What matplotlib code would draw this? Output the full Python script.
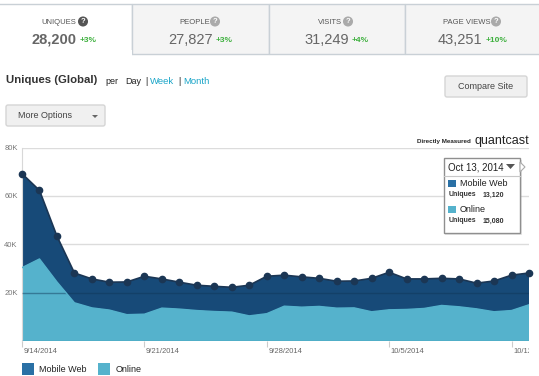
import numpy as np
import matplotlib
matplotlib.use('Agg')
import matplotlib.pyplot as plt
from matplotlib.patches import Rectangle, FancyBboxPatch, Polygon
from matplotlib.transforms import Bbox, ScaledTranslation

plt.rcParams['font.family'] = ['Liberation Sans', 'DejaVu Sans']

# thousands of uniques per day, 9/14/2014 to 10/13/2014
mobile_web = [38.8, 28.3, 18.9, 12.3, 11.95, 11.5, 13.5, 15.65, 12.05, 11.1,
              10.45, 10.4, 10.25, 12.65, 15.45, 12.8, 12.5, 11.6, 11.1, 11.1,
              13.8, 15.5, 12.6, 12.2, 11.2, 11.5, 10.6, 12.7, 14.6, 13.12]
online = [30.4, 34.0, 24.5, 15.9, 13.8, 12.9, 11.0, 11.2, 13.7, 13.3,
          12.7, 12.3, 12.05, 10.5, 11.4, 14.5, 14.1, 14.4, 13.7, 13.8,
          12.2, 13.0, 13.15, 13.56, 14.8, 14.25, 13.4, 12.2, 12.7, 15.08]

y_ticks = [20, 40, 60, 80]
y_labels = ['20K', '40K', '60K', '80K']
x_ticks = [0, 7, 14, 21, 28]
x_labels = ['9/14/2014', '9/21/2014', '9/28/2014', '10/5/2014', '10/12/2014']

tab_names = ['UNIQUES', 'PEOPLE', 'VISITS', 'PAGE VIEWS']
tab_values = ['28,200', '27,827', '31,249', '43,251']
tab_changes = ['+3%', '+3%', '+4%', '+10%']

W, H = 539, 376
DARK = '#174a78'
LIGHT = '#55b2cc'
SWATCH = '#2a70a5'
MARK = '#1b3654'
GREEN = '#3db03d'
LINK = '#1aa5c8'

fig = plt.figure(figsize=(W / 100, H / 100), dpi=100, facecolor='white')

# chart
ax = fig.add_axes([22 / W, (H - 341.3) / H, 507 / W, 193.8 / H])
days = np.arange(len(online))
total = np.array(online) + np.array(mobile_web)
ax.stackplot(days, online, mobile_web, colors=[LIGHT, DARK], linewidth=0, zorder=2)
ax.set_xlim(0, 29)
ax.set_ylim(0, 80)
ax.set_yticks(y_ticks, y_labels)
ax.set_xticks(x_ticks, x_labels)
ax.grid(axis='y', color='#dcdcdc', linewidth=1, zorder=1)
ax.hlines(20, 0, 29, color='#0f3556', linewidth=1, alpha=0.45, zorder=3)
ax.plot(days, online, color=LIGHT, linewidth=1, zorder=3)
ax.plot(days, total, color=MARK, linewidth=1.2, marker='o', markersize=4.5,
        clip_on=False, zorder=4)
ax.axhline(0, color='#3f9fb5', linewidth=1, zorder=5)
ax.tick_params(axis='y', length=0, pad=3, labelsize=5.5, labelcolor='#777777')
ax.tick_params(axis='x', length=4.5, width=0.8, color='#cccccc', pad=0,
               labelsize=5.5, labelcolor='#666666')
nudge = ScaledTranslation(1.5 / 100, 0, fig.dpi_scale_trans)
for lab in ax.get_xticklabels():
    lab.set_ha('left')
    lab.set_transform(lab.get_transform() + nudge)
    lab.set_clip_on(True)
    lab.set_clip_box(Bbox([[0, 0], [528.5, H]]))
for s in ['top', 'right', 'bottom']:
    ax.spines[s].set_visible(False)
ax.spines['left'].set_color('#d8d8d8')

# page furniture, drawn in pixel coordinates
ui = fig.add_axes([0, 0, 1, 1], facecolor='none')
ui.set_xlim(0, W)
ui.set_ylim(H, 0)
ui.axis('off')


def button(x, y, w, h, face):
    ui.add_patch(FancyBboxPatch((x + 1, y + 1), w - 2, h - 2, boxstyle='round,pad=1,rounding_size=2',
                                facecolor=face, edgecolor='#d5d5d5', linewidth=1))


tab_edges = [(-3, 132), (132, 269), (269, 404.5), (404.5, 542)]
label_x = [58.5, 194.5, 330, 467]
help_x = [83, 215, 348, 496]
value_x = [54.5, 191, 327, 460]
change_x = [80, 216, 352, 486]
for i in range(4):
    x0, x1 = tab_edges[i]
    active = i == 0
    ui.add_patch(Rectangle((x0, 4), x1 - x0, 50, facecolor='white' if active else '#f4f4f4',
                           edgecolor='#c9d0d6', linewidth=1, zorder=2))
    if active:
        ui.add_patch(Rectangle((-3, 50), x1 + 2.5, 8, facecolor='white', edgecolor='none', zorder=3))
    ui.text(label_x[i], 22, tab_names[i], fontsize=5.5, color='#555555', ha='center', va='center', zorder=4)
    ui.text(help_x[i], 21.5, '?', fontsize=5.5, color='white', weight='bold', ha='center', va='center', zorder=6,
            bbox=dict(boxstyle='circle,pad=0.2', facecolor='#555555' if active else '#aaaaaa', edgecolor='none'))
    ui.text(value_x[i], 40, tab_values[i], fontsize=10.5, color='#666666', ha='center', va='center',
            weight='bold' if active else 'normal', zorder=4)
    ui.text(change_x[i], 41, tab_changes[i], fontsize=6, color=GREEN, weight='bold', ha='left', va='center', zorder=4)

ui.text(6, 80, 'Uniques (Global)', fontsize=8.2, weight='bold', color='#333333', va='center')
ui.text(105, 81, 'per', fontsize=6.5, color='#222222', va='center')
ui.text(125, 81, 'Day', fontsize=6.5, color='#222222', va='center')
ui.text(145, 81, '|', fontsize=6.5, color='#222222', va='center')
ui.text(150, 81, 'Week', fontsize=6.8, color=LINK, va='center')
ui.text(178, 81, '|', fontsize=6.5, color='#222222', va='center')
ui.text(183, 81, 'Month', fontsize=6.8, color=LINK, va='center')

button(6, 105, 99, 21, '#f0f0f0')
ui.text(18, 115.5, 'More Options', fontsize=6.5, color='#444444', va='center')
ui.add_patch(Polygon([[92, 115], [98, 115], [95, 118]], facecolor='#666666'))
button(445, 76, 82, 21, '#f0f0f0')
ui.text(486, 86.5, 'Compare Site', fontsize=6.5, color='#444444', ha='center', va='center')

ui.text(471, 141, 'Directly Measured', fontsize=4.5, weight='bold', color='#222222', ha='right', va='center')
ui.text(529, 141, 'quantcast', fontsize=9, color='#222222', ha='right', va='center')

# tooltip
ui.add_patch(Rectangle((445, 160), 77, 75, facecolor='#999999', edgecolor='none', alpha=0.25, zorder=6))
ui.add_patch(Rectangle((443.5, 158), 76.5, 75, facecolor='white', edgecolor='#8f8f8f', linewidth=1, zorder=7))
ui.add_patch(Polygon([[520, 162], [525, 167], [520, 172]], facecolor='white', edgecolor='#aaaaaa', linewidth=0.8, zorder=8))
ui.plot([443.5, 520], [175.7, 175.7], color='#c8c8c8', linewidth=0.8, zorder=8)
ui.text(448.5, 167.5, 'Oct 13, 2014', fontsize=7, color='#222222', va='center', zorder=9)
ui.add_patch(Polygon([[506, 164], [515, 164], [510.5, 169]], facecolor='#555555', zorder=9))
ui.add_patch(Rectangle((448, 180), 8, 7, facecolor=SWATCH, zorder=9))
ui.text(460, 184, 'Mobile Web', fontsize=6.5, color='#222222', va='center', zorder=9)
ui.text(449, 195, 'Uniques', fontsize=5, weight='bold', color='#333333', va='center', zorder=9)
ui.text(483, 195, '13,120', fontsize=5, weight='bold', color='#333333', va='center', zorder=9)
ui.add_patch(Rectangle((448, 206), 8, 7, facecolor=LIGHT, zorder=9))
ui.text(460, 210, 'Online', fontsize=6.5, color='#222222', va='center', zorder=9)
ui.text(449, 221, 'Uniques', fontsize=5, weight='bold', color='#333333', va='center', zorder=9)
ui.text(483, 221, '15,080', fontsize=5, weight='bold', color='#333333', va='center', zorder=9)

# legend
ui.add_patch(Rectangle((22, 363), 12, 12, facecolor=SWATCH))
ui.text(39, 369, 'Mobile Web', fontsize=6.5, color='#222222', va='center')
ui.add_patch(Rectangle((98, 363), 12, 12, facecolor=LIGHT))
ui.text(116, 369, 'Online', fontsize=6.5, color='#222222', va='center')

fig.savefig('out.png', dpi=100)
